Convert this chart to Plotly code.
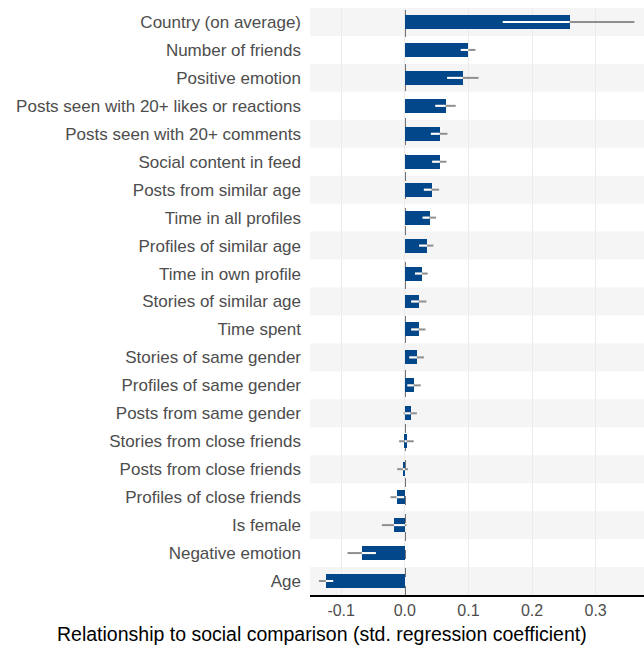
import plotly.graph_objects as go

labels = [
    "Country (on average)", "Number of friends", "Positive emotion",
    "Posts seen with 20+ likes or reactions", "Posts seen with 20+ comments",
    "Social content in feed", "Posts from similar age", "Time in all profiles",
    "Profiles of similar age", "Time in own profile", "Stories of similar age",
    "Time spent", "Stories of same gender", "Profiles of same gender",
    "Posts from same gender", "Stories from close friends",
    "Posts from close friends", "Profiles of close friends", "Is female",
    "Negative emotion", "Age",
]
coef = [0.259, 0.100, 0.091, 0.064, 0.055, 0.055, 0.042, 0.039, 0.035, 0.027,
        0.022, 0.022, 0.019, 0.014, 0.009, 0.003, -0.003, -0.013, -0.017,
        -0.0675, -0.124]
ci_lo = [0.154, 0.088, 0.0665, 0.048, 0.041, 0.043, 0.030, 0.028, 0.0225, 0.016,
         0.010, 0.010, 0.007, 0.004, -0.002, -0.009, -0.012, -0.0225, -0.036,
         -0.090, -0.135]
ci_hi = [0.361, 0.111, 0.116, 0.080, 0.067, 0.0655, 0.054, 0.049, 0.045, 0.036,
         0.034, 0.0325, 0.030, 0.025, 0.019, 0.014, 0.005, -0.001, 0.0026,
         -0.0455, -0.1126]
x_ticks = [-0.1, 0.0, 0.1, 0.2, 0.3]
x_tick_text = ["-0.1", "0.0", "0.1", "0.2", "0.3"]

ypos = list(range(len(labels)))

fig = go.Figure()
fig.add_trace(go.Bar(
    x=coef, y=ypos, orientation="h", width=0.5,
    marker=dict(color="#03478B", line=dict(width=0)),
    hoverinfo="skip", showlegend=False,
))

gx, gy = [], []
wx, wy = [], []
for i, (v, lo, hi) in enumerate(zip(coef, ci_lo, ci_hi)):
    gx += [lo, hi, None]
    gy += [i, i, None]
    b0, b1 = min(0, v), max(0, v)
    a, b = max(lo, b0), min(hi, b1)
    if b > a:
        wx += [a, b, None]
        wy += [i, i, None]
fig.add_trace(go.Scatter(x=gx, y=gy, mode="lines",
                         line=dict(color="#8f8f8f", width=2),
                         hoverinfo="skip", showlegend=False))
fig.add_trace(go.Scatter(x=wx, y=wy, mode="lines",
                         line=dict(color="#ffffff", width=2),
                         hoverinfo="skip", showlegend=False))

shapes = []
for i in ypos:
    if i % 2 == 0:
        shapes.append(dict(type="rect", xref="paper", yref="y", x0=0, x1=1,
                           y0=i - 0.5, y1=i + 0.5, fillcolor="#f5f5f5",
                           line=dict(width=0), layer="below"))
shapes.append(dict(type="line", xref="x", yref="paper", x0=0, x1=0, y0=0, y1=1,
                   line=dict(color="#000000", width=1.5, dash="dash"),
                   layer="between"))

fig.update_layout(
    width=644, height=648,
    margin=dict(l=310, r=0, t=8, b=53),
    paper_bgcolor="white", plot_bgcolor="white",
    font=dict(family="Liberation Sans, Arial, sans-serif", size=16, color="#4d4d4d"),
    shapes=shapes,
    bargap=0,
    xaxis=dict(range=[-0.149, 0.376], tickvals=x_ticks, ticktext=x_tick_text,
               showgrid=True, gridcolor="#ebebeb", gridwidth=1,
               zeroline=False, showline=True, linecolor="#000000", linewidth=2,
               ticks="", tickfont=dict(size=16, color="#4d4d4d")),
    yaxis=dict(range=[len(labels) - 0.5, -0.5], tickvals=ypos, ticktext=labels,
               showgrid=False, zeroline=False, showline=False, ticks="",
               ticklabelstandoff=8,
               tickfont=dict(size=17, color="#4d4d4d")),
    annotations=[dict(text="Relationship to social comparison (std. regression coefficient)",
                      xref="paper", yref="paper", x=(322 - 310) / 334, y=0,
                      yshift=-39, xanchor="center", yanchor="middle",
                      showarrow=False,
                      font=dict(size=19.5, color="#000000"))],
)
fig.write_html("out.html", config={"displayModeBar": False},
               post_script="document.body.style.margin='0';document.body.style.padding='0';")
